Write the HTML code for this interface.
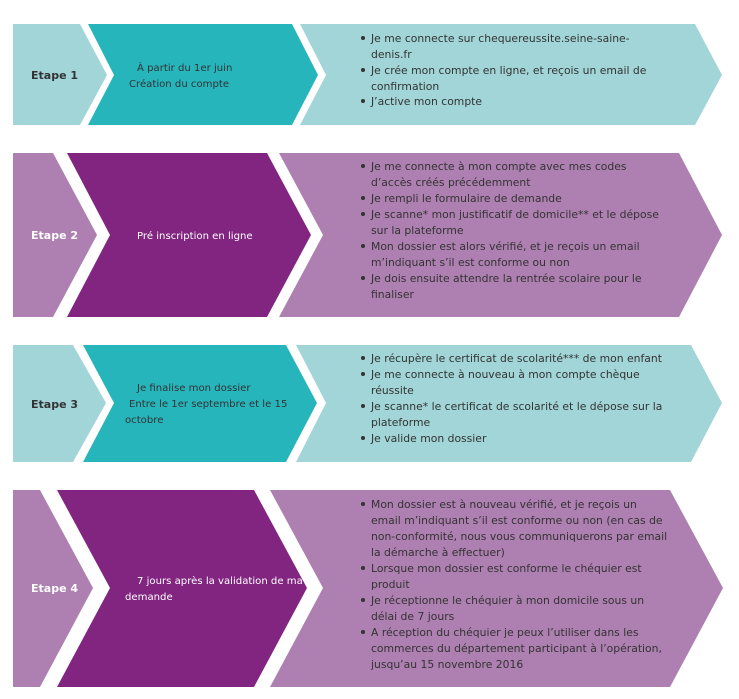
<!DOCTYPE html>
<html><head><meta charset="utf-8"><style>
html,body{margin:0;padding:0;background:#fff}
svg{display:block}
text{font-family:"DejaVu Sans","Liberation Sans",sans-serif;font-size:10.8px}
.m{font-size:10.1px}
.d{fill:#333}.w{fill:#fff}.b{font-weight:bold;font-size:11px}
</style></head><body>
<svg width="739" height="699" viewBox="0 0 739 699">
<polygon points="13,24 80,24 107,75 80,125 13,125" fill="#a1d5d8"/>
<polygon points="88,24 292,24 318,75 292,125 88,125 114,75" fill="#27b5bc"/>
<polygon points="300,24 695,24 722,75 695,125 300,125 326,75" fill="#a1d5d8"/>
<polygon points="13,153 53,153 97,235 53,317 13,317" fill="#ae7fb1"/>
<polygon points="67,153 267,153 311,235 267,317 67,317 110,235" fill="#822581"/>
<polygon points="279,153 679,153 722,235 679,317 279,317 323,235" fill="#ae7fb1"/>
<polygon points="13,345 73,345 106,403 73,462 13,462" fill="#a1d5d8"/>
<polygon points="83,345 286,345 317,403 286,462 83,462 114,403" fill="#27b5bc"/>
<polygon points="296,345 691,345 722,403 691,462 296,462 326,403" fill="#a1d5d8"/>
<polygon points="13,490 40,490 93,588 40,687 13,687" fill="#ae7fb1"/>
<polygon points="57,490 254,490 307,588 254,687 57,687 110,588" fill="#822581"/>
<polygon points="270,490 670,490 723,588 670,687 270,687 323,588" fill="#ae7fb1"/>

<text x="31" y="79" class="d b">Etape 1</text>
<text x="31" y="239" class="w b">Etape 2</text>
<text x="31" y="408" class="d b">Etape 3</text>
<text x="31" y="592" class="w b">Etape 4</text>

<text x="137" y="71" class="d m">À partir du 1er juin</text>
<text x="129" y="87" class="d m">Création du compte</text>
<text x="137" y="239" class="w m">Pré inscription en ligne</text>
<text x="137" y="391" class="d m">Je finalise mon dossier</text>
<text x="129" y="407" class="d m">Entre le 1er septembre et le 15</text>
<text x="125" y="423" class="d m">octobre</text>
<text x="137" y="584" class="w m">7 jours après la validation de ma</text>
<text x="125" y="600" class="w m">demande</text>

<g fill="#333">
<circle cx="363" cy="38" r="2"/><circle cx="363" cy="70" r="2"/><circle cx="363" cy="101" r="2"/>
<circle cx="363" cy="166" r="2"/><circle cx="363" cy="198" r="2"/><circle cx="363" cy="214" r="2"/><circle cx="363" cy="246" r="2"/><circle cx="363" cy="278" r="2"/>
<circle cx="363" cy="358" r="2"/><circle cx="363" cy="374" r="2"/><circle cx="363" cy="406" r="2"/><circle cx="363" cy="438" r="2"/>
<circle cx="363" cy="504" r="2"/><circle cx="363" cy="568" r="2"/><circle cx="363" cy="600" r="2"/><circle cx="363" cy="632" r="2"/>
</g>
<g class="d">
<text x="371" y="42">Je me connecte sur chequereussite.seine-saine-</text>
<text x="371" y="58">denis.fr</text>
<text x="371" y="74">Je crée mon compte en ligne, et reçois un email de</text>
<text x="371" y="90">confirmation</text>
<text x="371" y="105">J’active mon compte</text>

<text x="371" y="170">Je me connecte à mon compte avec mes codes</text>
<text x="371" y="186">d’accès créés précédemment</text>
<text x="371" y="202">Je rempli le formulaire de demande</text>
<text x="371" y="218">Je scanne* mon justificatif de domicile** et le dépose</text>
<text x="371" y="234">sur la plateforme</text>
<text x="371" y="250">Mon dossier est alors vérifié, et je reçois un email</text>
<text x="371" y="266">m’indiquant s’il est conforme ou non</text>
<text x="371" y="282">Je dois ensuite attendre la rentrée scolaire pour le</text>
<text x="371" y="298">finaliser</text>

<text x="371" y="362">Je récupère le certificat de scolarité*** de mon enfant</text>
<text x="371" y="378">Je me connecte à nouveau à mon compte chèque</text>
<text x="371" y="394">réussite</text>
<text x="371" y="410">Je scanne* le certificat de scolarité et le dépose sur la</text>
<text x="371" y="426">plateforme</text>
<text x="371" y="442">Je valide mon dossier</text>

<text x="371" y="508">Mon dossier est à nouveau vérifié, et je reçois un</text>
<text x="371" y="524">email m’indiquant s’il est conforme ou non (en cas de</text>
<text x="371" y="540">non-conformité, nous vous communiquerons par email</text>
<text x="371" y="556">la démarche à effectuer)</text>
<text x="371" y="572">Lorsque mon dossier est conforme le chéquier est</text>
<text x="371" y="588">produit</text>
<text x="371" y="604">Je réceptionne le chéquier à mon domicile sous un</text>
<text x="371" y="620">délai de 7 jours</text>
<text x="371" y="636">A réception du chéquier je peux l’utiliser dans les</text>
<text x="371" y="652">commerces du département participant à l’opération,</text>
<text x="371" y="668">jusqu’au 15 novembre 2016</text>
</g>
</svg>
</body></html>
